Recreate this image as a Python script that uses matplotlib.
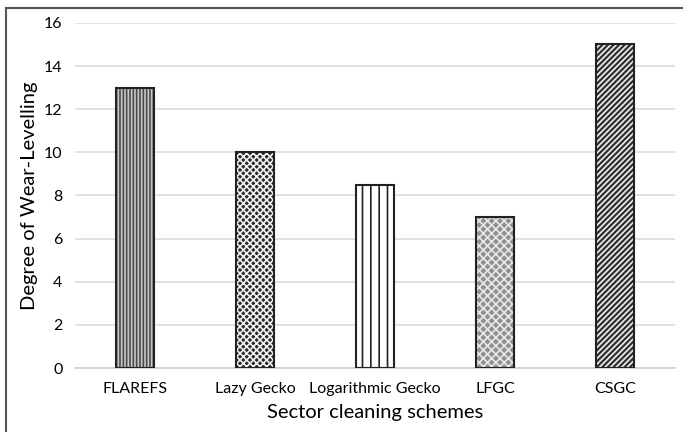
import matplotlib.pyplot as plt
from matplotlib.lines import Line2D

schemes = ['FLAREFS', 'Lazy Gecko', 'Logarithmic Gecko', 'LFGC', 'CSGC']
wear_levelling = [13, 10, 8.5, 7, 15]
hatches = ['|||||', 'xxxxx', '||', 'xxxx', '//////']
fills = ['#4a4a4a', '#2a2a2a', 'white', '#909090', '#303030']
hatch_cols = ['#c8c8c8', '#f0f0f0', '#222222', '#e8e8e8', '#f0f0f0']

plt.rcParams['font.family'] = ['Lato', 'DejaVu Sans']
plt.rcParams['hatch.linewidth'] = 1.2

fig = plt.figure(figsize=(6.83, 4.32), dpi=100)
ax = fig.add_axes([0.11, 0.148, 0.878, 0.799])

x = range(len(schemes))
for i in x:
    ax.bar(i, wear_levelling[i], width=0.32, color=fills[i],
           edgecolor=hatch_cols[i], hatch=hatches[i], linewidth=0, zorder=3)
    ax.bar(i, wear_levelling[i], width=0.32, fill=False,
           edgecolor='#222222', linewidth=1.5, zorder=4)

ax.set_xlim(-0.5, 4.5)
ax.set_ylim(0, 16)
ax.set_yticks(range(0, 17, 2))
ax.set_xticks(list(x))
ax.set_xticklabels(schemes)
ax.tick_params(axis='both', length=0, labelsize=11.5, colors='black')
ax.tick_params(axis='x', pad=10)
ax.tick_params(axis='y', pad=9)
ax.yaxis.grid(True, color='#dcdcdc', linewidth=1.2, zorder=0)
ax.set_axisbelow(True)
for s in ['top', 'right', 'left']:
    ax.spines[s].set_visible(False)
ax.spines['bottom'].set_color('#d0d0d0')
ax.spines['bottom'].set_linewidth(1.2)

ax.set_xlabel('Sector cleaning schemes', fontsize=14.5, labelpad=6)
ax.set_ylabel('Degree of Wear-Levelling', fontsize=14.5)
ax.yaxis.set_label_coords(-0.062, 0.5)

# outer frame (top and left edges visible)
fig.add_artist(Line2D([6/683, 1], [1 - 8/432, 1 - 8/432], color='#555555', lw=1.5))
fig.add_artist(Line2D([6/683, 6/683], [0, 1 - 8/432], color='#555555', lw=1.5))

plt.savefig('out.png', dpi=100)
